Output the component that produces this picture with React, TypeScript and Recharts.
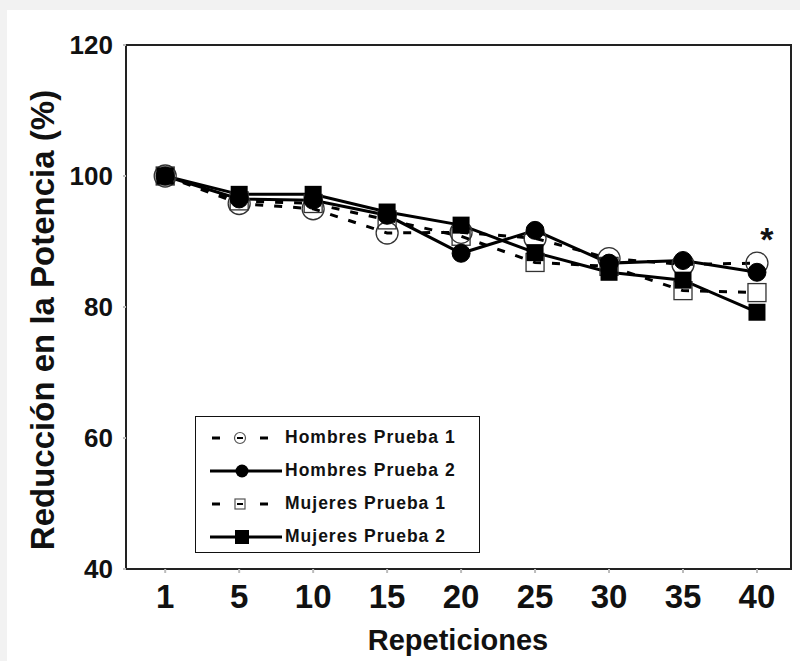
import { LabelList, Legend, Line, LineChart, ReferenceArea, XAxis, YAxis } from "recharts";

const repeticiones = ["1", "5", "10", "15", "20", "25", "30", "35", "40"];
const hombresPrueba1 = [100, 95.8, 95.0, 91.3, 91.4, 90.5, 87.4, 86.5, 86.7];
const hombresPrueba2 = [100, 96.5, 96.3, 94.0, 88.2, 91.7, 86.7, 87.1, 85.3];
const mujeresPrueba1 = [100, 96.2, 95.8, 93.3, 90.8, 86.8, 86.2, 82.5, 82.2];
const mujeresPrueba2 = [100, 97.2, 97.2, 94.5, 92.5, 88.3, 85.3, 84.1, 79.2];
const yTicks = [40, 60, 80, 100, 120];

const seriesNames = ["Hombres Prueba 1", "Hombres Prueba 2", "Mujeres Prueba 1", "Mujeres Prueba 2"];

// categories are placed at positions 0..8, the domain leaves room on both sides
const xPositions = repeticiones.map((_, i) => i);

const data = repeticiones.map((rep, i) => ({
  pos: i,
  rep,
  h1: hombresPrueba1[i],
  h2: hombresPrueba2[i],
  m1: mujeresPrueba1[i],
  m2: mujeresPrueba2[i]
}));

const FONT = "'Liberation Sans', Arial, sans-serif";

const openCircle = (props: any) => (
  <circle key={`h1-${props.index}`} cx={props.cx} cy={props.cy} r={11} fill="none" stroke="#333" strokeWidth={1.3} />
);
const filledCircle = (props: any) => (
  <circle key={`h2-${props.index}`} cx={props.cx} cy={props.cy} r={9} fill="#000" stroke="#000" />
);
const openSquare = (props: any) => (
  <rect key={`m1-${props.index}`} x={props.cx - 9} y={props.cy - 9} width={18} height={18} fill="none" stroke="#333" strokeWidth={1.3} />
);
const filledSquare = (props: any) => (
  <rect key={`m2-${props.index}`} x={props.cx - 8.5} y={props.cy - 8.5} width={17} height={17} fill="#000" />
);

function LegendIcon({ kind }: { kind: number }) {
  const dashed = kind === 0 || kind === 2;
  return (
    <svg width={85} height={20} style={{ display: "block" }}>
      {dashed ? (
        <>
          <line x1={12} y1={10} x2={20} y2={10} stroke="#000" strokeWidth={3} />
          <line x1={60} y1={10} x2={68} y2={10} stroke="#000" strokeWidth={3} />
        </>
      ) : (
        <line x1={10} y1={10} x2={82} y2={10} stroke="#000" strokeWidth={3} />
      )}
      {kind === 0 && (
        <>
          <circle cx={40} cy={10} r={5.5} fill="#fff" stroke="#555" strokeWidth={1.2} />
          <line x1={37} y1={10} x2={43} y2={10} stroke="#000" strokeWidth={2} />
        </>
      )}
      {kind === 1 && <circle cx={42} cy={10} r={6.5} fill="#000" />}
      {kind === 2 && (
        <>
          <rect x={35} y={5} width={10} height={10} fill="#fff" stroke="#555" strokeWidth={1.2} />
          <line x1={37} y1={10} x2={43} y2={10} stroke="#000" strokeWidth={2} />
        </>
      )}
      {kind === 3 && <rect x={35} y={3} width={14} height={14} fill="#000" />}
    </svg>
  );
}

function LegendBox() {
  return (
    <div
      style={{
        boxSizing: "border-box",
        width: 285,
        height: 137,
        border: "1.5px solid #111",
        background: "#fff",
        paddingTop: 4
      }}
    >
      {seriesNames.map((name, i) => (
        <div key={name} style={{ display: "flex", alignItems: "center", height: 33, paddingLeft: 4 }}>
          <LegendIcon kind={i} />
          <span style={{ fontFamily: FONT, fontWeight: 700, fontSize: 17.5, letterSpacing: 1, color: "#111" }}>
            {name}
          </span>
        </div>
      ))}
    </div>
  );
}

export default function App() {
  return (
    <div style={{ position: "absolute", left: 0, top: 0, width: 800, height: 661, background: "#f2f2f2" }}>
      <div style={{ position: "absolute", left: 7, top: 10, width: 793, height: 651, background: "#fff" }} />
      <div style={{ position: "absolute", left: 0, top: 0 }}>
        <LineChart width={800} height={661} data={data} margin={{ top: 45, right: 9, bottom: 0, left: 0 }}>
          <XAxis
            dataKey="pos"
            type="number"
            domain={[-0.53, 8.46]}
            ticks={xPositions}
            tickFormatter={(v: number) => repeticiones[v] ?? ""}
            allowDataOverflow
            height={92}
            stroke="#222"
            strokeWidth={2}
            tickLine={{ stroke: "#bbb" }}
            tickSize={4}
            tickMargin={12}
            tick={{ fill: "#111", fontFamily: FONT, fontWeight: 700, fontSize: 33 }}
            label={{
              content: () => (
                <text x={458} y={640} textAnchor="middle" dominantBaseline="central" fill="#111" fontFamily={FONT} fontWeight={700} fontSize={29}>
                  Repeticiones
                </text>
              )
            }}
          />
          <YAxis
            type="number"
            domain={[40, 120]}
            ticks={yTicks}
            width={126}
            stroke="#222"
            strokeWidth={2}
            tickLine={{ stroke: "#bbb" }}
            tickSize={3}
            tickMargin={10}
            tick={{ fill: "#111", fontFamily: FONT, fontWeight: 700, fontSize: 26 }}
            label={{
              content: () => (
                <text x={42} y={320} transform="rotate(-90 42 320)" textAnchor="middle" dominantBaseline="central" fill="#111" fontFamily={FONT} fontWeight={700} fontSize={33}>
                  Reducción en la Potencia (%)
                </text>
              )
            }}
          />
          {/* plot frame */}
          <ReferenceArea y1={40} y2={120} fill="none" fillOpacity={0} stroke="#222" strokeWidth={2} ifOverflow="visible" />
          <Legend
            layout="vertical"
            verticalAlign="middle"
            align="center"
            wrapperStyle={{ position: "absolute", left: 195, top: 416, width: 285, height: 137 }}
            content={() => <LegendBox />}
          />
          <Line
            dataKey="h1"
            name={seriesNames[0]}
            stroke="#000"
            strokeWidth={3}
            strokeDasharray="8 11"
            dot={openCircle}
            activeDot={false}
            isAnimationActive={false}
          >
            <LabelList
              dataKey="h1"
              content={(p: any) =>
                p.index === repeticiones.length - 1 ? (
                  <text x={p.x + 10} y={p.y - 12} textAnchor="middle" fill="#111" fontFamily={FONT} fontWeight={700} fontSize={34}>
                    *
                  </text>
                ) : null
              }
            />
          </Line>
          <Line
            dataKey="m1"
            name={seriesNames[2]}
            stroke="#000"
            strokeWidth={3}
            strokeDasharray="8 11"
            dot={openSquare}
            activeDot={false}
            isAnimationActive={false}
          />
          <Line
            dataKey="h2"
            name={seriesNames[1]}
            stroke="#000"
            strokeWidth={3}
            dot={filledCircle}
            activeDot={false}
            isAnimationActive={false}
          />
          <Line
            dataKey="m2"
            name={seriesNames[3]}
            stroke="#000"
            strokeWidth={3}
            dot={filledSquare}
            activeDot={false}
            isAnimationActive={false}
          />
        </LineChart>
      </div>
    </div>
  );
}
